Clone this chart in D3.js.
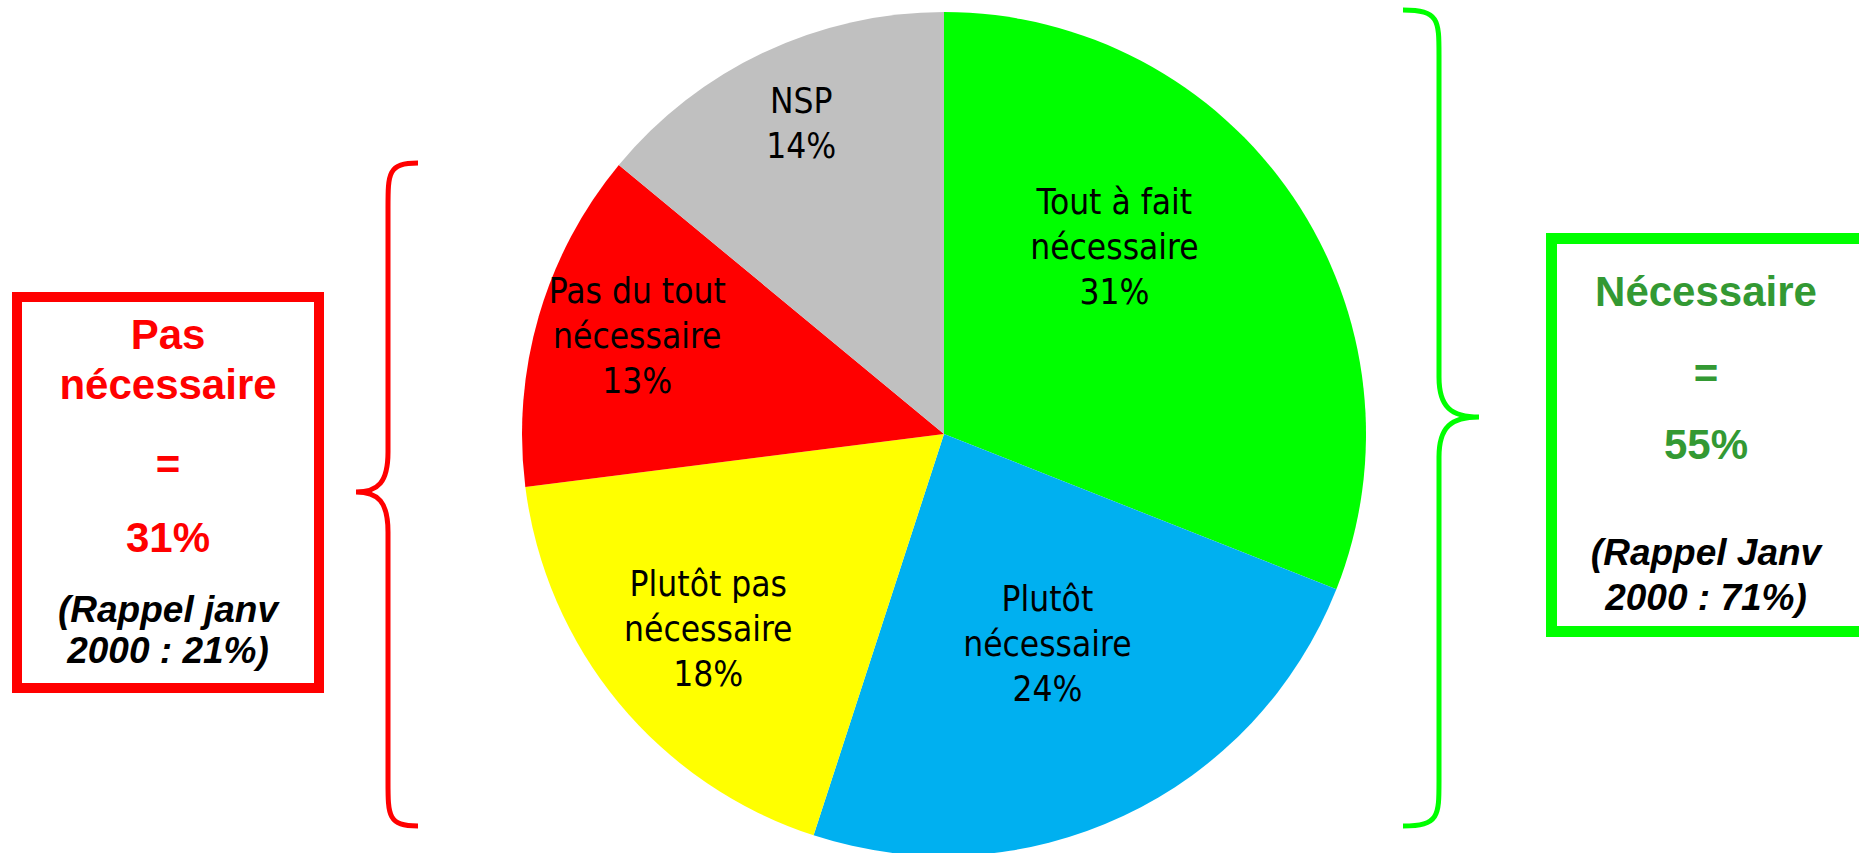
<!DOCTYPE html>
<html>
<head>
<meta charset="utf-8">
<script src="https://cdn.jsdelivr.net/npm/d3@7"></script>
<style>
  html, body { margin: 0; padding: 0; background: #fff; }
  svg { display: block; }
</style>
</head>
<body>
<div id="chart"></div>
<script>
// slice data, clockwise from 12 o'clock
const categories = ["Tout à fait nécessaire", "Plutôt nécessaire", "Plutôt pas nécessaire", "Pas du tout nécessaire", "NSP"];
const labelLines = [["Tout à fait", "nécessaire"], ["Plutôt", "nécessaire"], ["Plutôt pas", "nécessaire"], ["Pas du tout", "nécessaire"], ["NSP"]];
const values = [31, 24, 18, 13, 14];
const colors = ["#00FF00", "#00B0F0", "#FFFF00", "#FF0000", "#C0C0C0"];

// side boxes
const leftLines = ["Pas", "nécessaire", "=", "31%"];
const leftRecall = ["(Rappel janv", "2000 : 21%)"];
const rightLines = ["Nécessaire", "=", "55%"];
const rightRecall = ["(Rappel Janv", "2000 : 71%)"];

const width = 1859, height = 853;
const cx = 944, cy = 434, radius = 422;

// where each label sits: fraction of radius, and angle shift (deg) from slice middle
const labelPos = [
  {r: 0.60, da: -13.5},
  {r: 0.555, da: -1},
  {r: 0.725, da: 0},
  {r: 0.763, da: 1.5},
  {r: 0.81, da: 0.5}
];

const svg = d3.select("#chart").append("svg")
    .attr("width", width)
    .attr("height", height);

const pie = d3.pie().sort(null).value(d => d.value);
const arc = d3.arc().innerRadius(0).outerRadius(radius);

const data = categories.map((c, i) => ({name: c, value: values[i], color: colors[i], lines: labelLines[i]}));
const arcs = pie(data);

const gPie = svg.append("g").attr("transform", `translate(${cx},${cy})`);

gPie.selectAll("path")
  .data(arcs)
  .join("path")
    .attr("d", arc)
    .attr("fill", d => d.data.color);

const lineH = 45;
gPie.selectAll("text.lab")
  .data(arcs)
  .join("text")
    .attr("class", "lab")
    .attr("text-anchor", "middle")
    .style("font-family", "'DejaVu Sans Condensed', 'DejaVu Sans', sans-serif")
    .style("font-stretch", "condensed")
    .style("font-size", "35px")
    .attr("fill", "#000")
    .each(function(d, i) {
      const p = labelPos[i];
      const a = (d.startAngle + d.endAngle) / 2 + p.da * Math.PI / 180;
      const r = radius * p.r;
      const x = Math.sin(a) * r;
      const y = -Math.cos(a) * r;
      const lines = d.data.lines.concat([d.data.value + "%"]);
      const y0 = y - (lines.length - 1) * lineH / 2 + 12;
      d3.select(this).selectAll("tspan")
        .data(lines)
        .join("tspan")
          .attr("x", x)
          .attr("y", (t, k) => y0 + k * lineH)
          .text(t => t);
    });

// curly brace: vertical line at xl, ends hook to xe, tip at xt
function brace(xl, xe, xt, top, mid, bottom) {
  const h = 45, m = 40;
  return `M${xe},${top}` +
    `C${xl},${top} ${xl},${top + 10} ${xl},${top + h}` +
    `L${xl},${mid - m}` +
    `C${xl},${mid - 10} ${xl + (xt - xl) * 0.3},${mid} ${xt},${mid}` +
    `C${xl + (xt - xl) * 0.3},${mid} ${xl},${mid + 10} ${xl},${mid + m}` +
    `L${xl},${bottom - h}` +
    `C${xl},${bottom - 10} ${xl},${bottom} ${xe},${bottom}`;
}

svg.append("path")
    .attr("d", brace(388, 418, 356, 163, 492, 826))
    .attr("fill", "none")
    .attr("stroke", "#FF0000")
    .attr("stroke-width", 5);

svg.append("path")
    .attr("d", brace(1439, 1403, 1479, 10, 417, 826))
    .attr("fill", "none")
    .attr("stroke", "#00FF00")
    .attr("stroke-width", 5);

const boldFont = "'Liberation Sans', Arial, sans-serif";

// left box
svg.append("rect")
    .attr("x", 17).attr("y", 297).attr("width", 302).attr("height", 391)
    .attr("fill", "none").attr("stroke", "#FF0000").attr("stroke-width", 10);

const leftY = [349, 399, 479, 552];
svg.append("g").selectAll("text")
  .data(leftLines)
  .join("text")
    .attr("x", 168)
    .attr("y", (d, i) => leftY[i])
    .attr("text-anchor", "middle")
    .style("font-family", boldFont)
    .style("font-weight", "bold")
    .style("font-size", "42px")
    .attr("fill", "#FF0000")
    .text(d => d);

const leftRY = [622, 663];
svg.append("g").selectAll("text")
  .data(leftRecall)
  .join("text")
    .attr("x", 168)
    .attr("y", (d, i) => leftRY[i])
    .attr("text-anchor", "middle")
    .style("font-family", boldFont)
    .style("font-weight", "bold")
    .style("font-style", "italic")
    .style("font-size", "37px")
    .attr("fill", "#000")
    .text(d => d);

// right box (runs off the right edge)
svg.append("rect")
    .attr("x", 1551.5).attr("y", 238.5).attr("width", 320).attr("height", 393)
    .attr("fill", "none").attr("stroke", "#00FF00").attr("stroke-width", 11);

const rightY = [306, 388, 459];
svg.append("g").selectAll("text")
  .data(rightLines)
  .join("text")
    .attr("x", 1706)
    .attr("y", (d, i) => rightY[i])
    .attr("text-anchor", "middle")
    .style("font-family", boldFont)
    .style("font-weight", "bold")
    .style("font-size", "42px")
    .attr("fill", "#339933")
    .text(d => d);

const rightRY = [565, 610];
svg.append("g").selectAll("text")
  .data(rightRecall)
  .join("text")
    .attr("x", 1706)
    .attr("y", (d, i) => rightRY[i])
    .attr("text-anchor", "middle")
    .style("font-family", boldFont)
    .style("font-weight", "bold")
    .style("font-style", "italic")
    .style("font-size", "37px")
    .attr("fill", "#000")
    .text(d => d);
</script>
</body>
</html>
